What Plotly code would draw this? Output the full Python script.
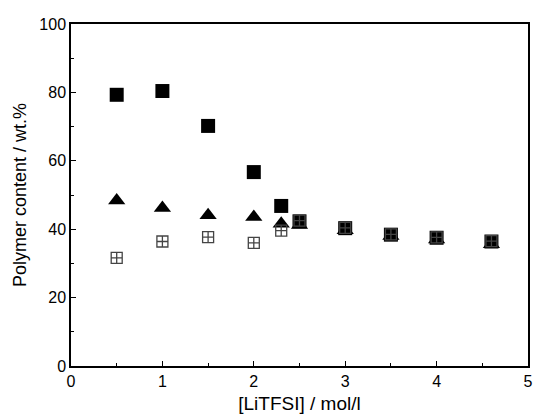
import plotly.graph_objects as go

conc = [0.5, 1.0, 1.5, 2.0, 2.3, 2.5, 3.0, 3.5, 4.0, 4.6]
filled_sq = [79.3, 80.4, 70.2, 56.7, 46.8, 42.3, 40.3, 38.4, 37.5, 36.4]
open_sq = [31.6, 36.4, 37.7, 36.0, 39.6, 42.5, 40.4, 38.5, 37.6, 36.5]
triangle = [48.4, 46.2, 44.1, 43.6, 41.6, 41.2, 39.7, 38.0, 37.0, 35.6]

FONT = "Liberation Sans, Arial"

fig = go.Figure()
fig.add_trace(go.Scatter(x=conc, y=filled_sq, mode="markers",
                         marker=dict(symbol="square", size=14, color="black",
                                     line=dict(width=0))))
fig.add_trace(go.Scatter(x=conc, y=triangle, mode="markers",
                         marker=dict(symbol="triangle-up", size=15, color="black",
                                     line=dict(width=0))))
fig.add_trace(go.Scatter(x=conc, y=open_sq, mode="markers",
                         marker=dict(symbol="square-cross-open", size=11, color="#444",
                                     line=dict(width=1.3, color="#444"))))

axis_common = dict(showline=True, linecolor="black", linewidth=1.5, mirror=True,
                   ticks="inside", ticklen=5, tickwidth=1.2, tickcolor="black",
                   showgrid=False, zeroline=False,
                   tickfont=dict(family=FONT, size=16, color="black"))

fig.update_layout(
    width=539, height=419,
    margin=dict(l=71, r=6, t=24, b=53),
    paper_bgcolor="white", plot_bgcolor="white",
    showlegend=False,
    xaxis=dict(range=[0, 5], dtick=1,
               minor=dict(dtick=0.5, ticks="inside", ticklen=3, tickcolor="black"),
               title=dict(text="[LiTFSI] / mol/l", standoff=8,
                          font=dict(family=FONT, size=19, color="black")),
               **axis_common),
    yaxis=dict(range=[0, 100], dtick=20,
               minor=dict(dtick=10, ticks="inside", ticklen=3, tickcolor="black"),
               title=dict(text="Polymer content / wt.%", standoff=8,
                          font=dict(family=FONT, size=18, color="black")),
               **axis_common),
)

fig.write_html("out.html")
